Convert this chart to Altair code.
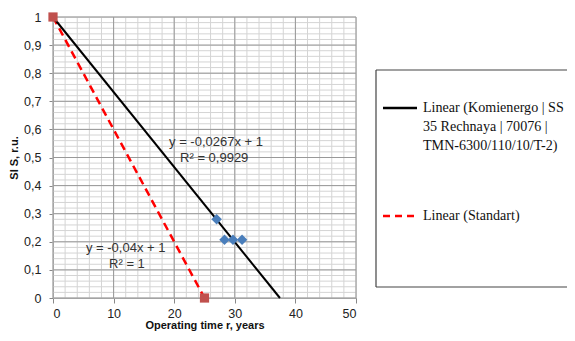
import altair as alt
import pandas as pd

# --- data ---
obs_x = [27.0, 28.3, 29.7, 31.2]
obs_y = [0.28, 0.207, 0.207, 0.207]

komi_line_x = [0.0, 37.45]
komi_line_y = [1.0, 0.0]

std_x = [0.0, 25.0]
std_y = [1.0, 0.0]

x_major = [0, 10, 20, 30, 40, 50]
y_major = [0, 0.1, 0.2, 0.3, 0.4, 0.5, 0.6, 0.7, 0.8, 0.9, 1.0]
x_minor = list(range(0, 51, 2))
y_minor = [round(i * 0.02, 2) for i in range(0, 51)]

eq_labels = ["y = -0,0267x + 1", "R² = 0,9929", "y = -0,04x + 1", "R² = 1"]
eq_x = [26.9, 26.6, 12.0, 12.2]
eq_y = [0.555, 0.50, 0.178, 0.122]

legend_komi = ["Linear (Komienergo | SS", "35 Rechnaya | 70076 |", "TMN-6300/110/10/T-2)"]
legend_std = "Linear (Standart)"

W, H = 303, 281
SVG_W, SVG_H = 559, 325
FONT = "Liberation Sans"
SERIF = "Liberation Serif"

xs = alt.Scale(domain=[0, 50], nice=False)
ys = alt.Scale(domain=[0, 1], nice=False)

fmt = "replace(format(datum.value, '.1~f'), '.', ',')"

x_axis = alt.Axis(values=x_major, title="Operating time r, years", grid=False,
                  labelFont=FONT, labelFontSize=12.5, labelColor="#222222",
                  titleFont=FONT, titleFontSize=11, titleFontWeight="bold", titleColor="#111111",
                  tickSize=5, tickColor="#888888", domainColor="#888888",
                  labelPadding=4, titlePadding=0)
y_axis = alt.Axis(values=y_major, title="SI S, r.u.", grid=False, labelExpr=fmt,
                  labelFont=FONT, labelFontSize=12.5, labelColor="#222222",
                  titleFont=FONT, titleFontSize=11, titleFontWeight="bold", titleColor="#111111",
                  tickSize=4, tickColor="#888888", domainColor="#888888",
                  labelPadding=8, titlePadding=4)

X = lambda f: alt.X(f"{f}:Q", scale=xs, axis=x_axis)
Y = lambda f: alt.Y(f"{f}:Q", scale=ys, axis=y_axis)

minor_vx = alt.Chart(pd.DataFrame({"x": x_minor})).mark_rule(color="#d4d4d4", strokeWidth=1).encode(x=X("x"))
minor_hy = alt.Chart(pd.DataFrame({"y": y_minor})).mark_rule(color="#d4d4d4", strokeWidth=1).encode(y=Y("y"))
major_vx = alt.Chart(pd.DataFrame({"x": x_major})).mark_rule(color="#999999", strokeWidth=1).encode(x=X("x"))
major_hy = alt.Chart(pd.DataFrame({"y": y_major})).mark_rule(color="#999999", strokeWidth=1).encode(y=Y("y"))

std_df = pd.DataFrame({"x": std_x, "y": std_y})
komi_df = pd.DataFrame({"x": komi_line_x, "y": komi_line_y})
obs_df = pd.DataFrame({"x": obs_x, "y": obs_y})

std_line = alt.Chart(std_df).mark_line(color="#ff0000", strokeWidth=2.5, strokeDash=[8, 5]).encode(
    x=X("x"), y=Y("y"))
komi_line = alt.Chart(komi_df).mark_line(color="#000000", strokeWidth=2).encode(x=X("x"), y=Y("y"))
obs_pts = alt.Chart(obs_df).mark_point(shape="diamond", filled=True, size=110, color="#4a7ebb", opacity=1).encode(
    x=X("x"), y=Y("y"))
std_pts = alt.Chart(std_df).mark_point(shape="square", filled=True, size=85, color="#c0504d", opacity=1).encode(
    x=X("x"), y=Y("y"))

eq_df = pd.DataFrame({"x": eq_x, "y": eq_y, "t": eq_labels})
eq_text = alt.Chart(eq_df).mark_text(font=FONT, fontSize=13, color="#333333", align="center", baseline="middle").encode(
    x=X("x"), y=Y("y"), text="t:N")

one = alt.Data(values=[{}])
box_l, box_r, box_t, box_b = 323, 540, 53, 270
box_top = alt.Chart(one).mark_rule(color="#444444", strokeWidth=1.2).encode(
    x=alt.value(box_l), x2=alt.value(box_r), y=alt.value(box_t))
box_bot = alt.Chart(one).mark_rule(color="#444444", strokeWidth=1.2).encode(
    x=alt.value(box_l), x2=alt.value(box_r), y=alt.value(box_b))
box_left = alt.Chart(one).mark_rule(color="#444444", strokeWidth=1.2).encode(
    x=alt.value(box_l), y=alt.value(box_t), y2=alt.value(box_b))

leg_black = alt.Chart(one).mark_rule(color="#000000", strokeWidth=2.5).encode(
    x=alt.value(330), x2=alt.value(364), y=alt.value(91))
leg_red = alt.Chart(one).mark_rule(color="#ff0000", strokeWidth=2.5, strokeDash=[7, 5]).encode(
    x=alt.value(330), x2=alt.value(364), y=alt.value(199))

leg_texts = []
for i, line in enumerate(legend_komi):
    leg_texts.append(alt.Chart(one).mark_text(font=SERIF, fontSize=14.1, color="#111111", align="left", baseline="middle").encode(
        x=alt.value(370), y=alt.value(91 + 19 * i), text=alt.value(line)))
leg_texts.append(alt.Chart(one).mark_text(font=SERIF, fontSize=14.1, color="#111111", align="left", baseline="middle").encode(
    x=alt.value(370), y=alt.value(199), text=alt.value(legend_std)))

chart = alt.layer(
    minor_vx, minor_hy, major_vx, major_hy,
    std_line, komi_line, obs_pts, std_pts, eq_text,
    box_top, box_bot, box_left, leg_black, leg_red, *leg_texts,
).properties(
    width=W, height=H,
    autosize=alt.AutoSizeParams(type="none"),
    padding={"left": 45, "top": 9, "right": SVG_W - 45 - W, "bottom": SVG_H - 9 - H},
).configure_view(stroke=None).configure(background="white")

chart.save("out.html", embed_options={"renderer": "svg", "actions": False})
